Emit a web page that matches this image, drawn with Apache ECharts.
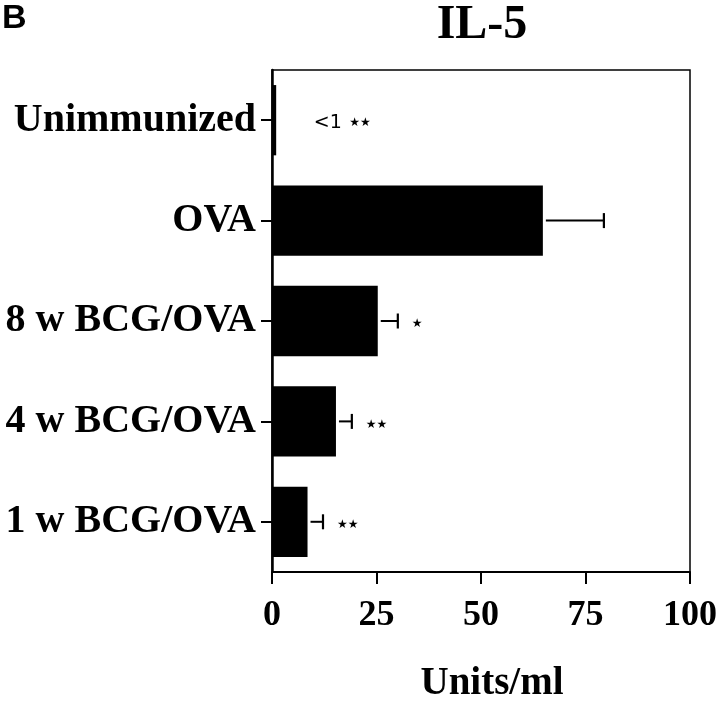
<!DOCTYPE html>
<html>
<head>
<meta charset="utf-8">
<script src="https://cdn.jsdelivr.net/npm/echarts@6/dist/echarts.min.js"></script>
<style>html,body{margin:0;padding:0;background:#fff}#c{width:720px;height:708px}</style>
</head>
<body>
<div id="c"></div>
<script>
// ---- data ----
var categories = ['Unimmunized', 'OVA', '8 w BCG/OVA', '4 w BCG/OVA', '1 w BCG/OVA'];
var values = [1, 64.8, 25.3, 15.3, 8.5];
var errors = [0, 14.6, 4.8, 3.8, 3.7];
var notes = ['<1', '', '', '', ''];
var stars = ['★★', '', '★', '★★', '★★'];
var unimmNoteAt = 10;
var xTicks = [0, 25, 50, 75, 100];

var serif = '"Liberation Serif", "DejaVu Serif", serif';
var chart = echarts.init(document.getElementById('c'), null, {renderer: 'canvas'});

var errData = categories.map(function (c, i) { return [i, values[i], errors[i]]; });

var option = {
  backgroundColor: '#fff',
  animation: false,
  title: {
    text: 'IL-5', left: 477, top: -3, textAlign: 'center',
    textStyle: {fontFamily: serif, fontWeight: 'bold', fontSize: 48, color: '#000'}
  },
  graphic: [{
    type: 'text', left: 2, top: 2,
    style: {text: 'B', font: 'bold 34px "Liberation Sans", Arial, sans-serif', fill: '#000'}
  }],
  grid: {left: 272, right: 30, top: 70, bottom: 124, show: true, borderColor: '#000', borderWidth: 1.5},
  xAxis: {
    type: 'value', min: 0, max: 100, interval: 25,
    name: 'Units/ml', nameLocation: 'middle', nameGap: 92,
    nameTextStyle: {fontFamily: serif, fontWeight: 'bold', fontSize: 39, color: '#000', padding: [0, 0, 0, 22]},
    axisLine: {show: true, lineStyle: {color: '#000', width: 2}},
    axisTick: {show: true, length: 12, lineStyle: {color: '#000', width: 2}},
    axisLabel: {margin: 26, fontFamily: serif, fontWeight: 'bold', fontSize: 36, color: '#000',
      formatter: function (v) { return xTicks.indexOf(v) >= 0 ? String(v) : ''; }},
    splitLine: {show: false}
  },
  yAxis: {
    type: 'category', data: categories, inverse: true,
    axisLine: {show: true, lineStyle: {color: '#000', width: 2.5}},
    axisTick: {show: true, alignWithLabel: true, length: 11, lineStyle: {color: '#000', width: 2}},
    axisLabel: {margin: 16, fontFamily: serif, fontWeight: 'bold', fontSize: 40, color: '#000'}
  },
  series: [{
    type: 'bar', data: values, barWidth: '70%',
    itemStyle: {color: '#000'}, z: 2
  }, {
    type: 'custom', data: errData, z: 3,
    renderItem: function (params, api) {
      var i = api.value(0), v = api.value(1), e = api.value(2);
      var children = [];
      var y = api.coord([0, i])[1];
      var endX;
      if (e > 0) {
        var x0 = api.coord([v, i])[0] + 3;
        var x1 = api.coord([v + e, i])[0];
        children.push({type: 'line', shape: {x1: x0, y1: y, x2: x1, y2: y}, style: {stroke: '#000', lineWidth: 2}});
        children.push({type: 'line', shape: {x1: x1, y1: y - 7.5, x2: x1, y2: y + 7.5}, style: {stroke: '#000', lineWidth: 2.2}});
        endX = x1 + 14;
      } else {
        endX = api.coord([unimmNoteAt, i])[0];
      }
      var txt = notes[i] ? '{a|' + notes[i] + '} {s|' + stars[i] + '}' : '{s|' + stars[i] + '}';
      children.push({
        type: 'text', x: endX, y: y + 3,
        style: {
          text: txt, align: 'left', verticalAlign: 'middle',
          rich: {
            a: {font: '19px "DejaVu Sans", sans-serif', fill: '#000', padding: [0, 4, 0, 0]},
            s: {font: '12px "DejaVu Sans", sans-serif', fill: '#000'}
          }
        }
      });
      return {type: 'group', children: children};
    }
  }]
};
chart.setOption(option);
</script>
</body>
</html>
